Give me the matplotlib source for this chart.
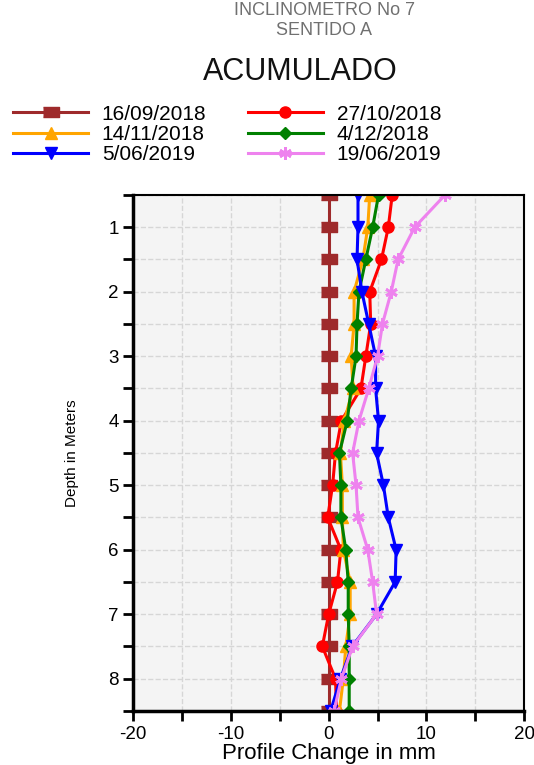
import numpy as np
import matplotlib
matplotlib.use("Agg")
import matplotlib.pyplot as plt
from matplotlib.ticker import MultipleLocator

plt.rcParams["font.family"] = ["Liberation Sans", "DejaVu Sans"]
plt.rcParams["axes.unicode_minus"] = False

# depth of each reading (m)
depth = [0.5, 1.0, 1.5, 2.0, 2.5, 3.0, 3.5, 4.0, 4.5, 5.0, 5.5, 6.0, 6.5, 7.0, 7.5, 8.0, 8.5]

# accumulated displacement (mm) per reading date
d_16_09_2018 = [0, 0, 0, 0, 0, 0, 0, 0, 0, 0, 0, 0, 0, 0, 0, 0, 0]
d_27_10_2018 = [6.5, 6.1, 5.4, 4.2, 4.3, 3.8, 3.3, 1.3, 0.7, 0.4, -0.1, 1.25, 0.9, 0.0, -0.65, 0.7, 0.8]
d_14_11_2018 = [4.2, 4.0, 3.5, 2.6, 2.6, 2.3, 2.5, 1.6, 1.2, 1.4, 1.4, 1.5, 2.2, 2.2, 1.75, 1.5, 1.1]
d_4_12_2018 = [5.1, 4.5, 3.8, 3.1, 2.9, 2.8, 2.3, 1.9, 1.1, 1.25, 1.25, 1.75, 2.0, 2.0, 2.1, 2.1, 2.1]
d_5_06_2019 = [3.0, 3.0, 2.9, 3.4, 4.1, 4.8, 4.8, 5.1, 4.9, 5.6, 6.1, 6.9, 6.8, 4.9, 2.4, 1.2, 0.2]
d_19_06_2019 = [11.9, 8.8, 7.1, 6.4, 5.5, 5.0, 4.1, 3.1, 2.45, 2.8, 3.0, 4.0, 4.5, 4.9, 2.45, 1.3, 0.55]

labels = ["16/09/2018", "27/10/2018", "14/11/2018", "4/12/2018", "5/06/2019", "19/06/2019"]
series = [d_16_09_2018, d_27_10_2018, d_14_11_2018, d_4_12_2018, d_5_06_2019, d_19_06_2019]

rect = [(-1.4, -1), (1.4, -1), (1.4, 1), (-1.4, 1)]
styles = [
    dict(color="#9e2a2b", marker=rect, ms=11),
    dict(color="#ff0000", marker="o", ms=8),
    dict(color="#ffa500", marker="^", ms=9),
    dict(color="#008000", marker="D", ms=6),
    dict(color="#0000ff", marker="v", ms=9),
    dict(color="#ee82ee", marker=(6, 2, 0), ms=9, mew=2),
]

fig = plt.figure(figsize=(5.34, 7.65), dpi=100)
ax = fig.add_axes([0.2494, 0.0706, 0.7322, 0.6745])
ax.set_facecolor("#f4f4f4")

handles = []
for vals, lab, st in zip(series, labels, styles):
    h, = ax.plot(vals, depth, lw=2.2, label=lab, **st)
    handles.append(h)

ax.set_xlim(-20, 20)
ax.set_ylim(8.5, 0.5)
ax.xaxis.set_major_locator(MultipleLocator(10))
ax.xaxis.set_minor_locator(MultipleLocator(5))
ax.yaxis.set_major_locator(MultipleLocator(1))
ax.yaxis.set_minor_locator(MultipleLocator(0.5))
ax.tick_params(which="both", direction="out", length=7, width=2)
ax.tick_params(labelsize=13.5)
ax.grid(which="both", ls="--", color="#d6d6d6", lw=1)
ax.set_axisbelow(True)
for s in ["left", "bottom"]:
    ax.spines[s].set_linewidth(2.5)
for s in ["top", "right"]:
    ax.spines[s].set_linewidth(1.5)

ax.set_xlabel("Profile Change in mm", fontsize=16, labelpad=0)
ax.set_ylabel("Depth in Meters", fontsize=11, labelpad=21,
              family=["Liberation Sans Narrow", "Liberation Sans", "DejaVu Sans"])

fig.text(0.608, 0.986, "INCLINOMETRO No 7", ha="center", va="center", fontsize=13, color="#707070")
fig.text(0.607, 0.960, "SENTIDO A", ha="center", va="center", fontsize=13, color="#707070")
fig.text(0.562, 0.906, "ACUMULADO", ha="center", va="center", fontsize=22, color="#111111")

order = [0, 2, 4, 1, 3, 5]
fig.legend([handles[i] for i in order], [labels[i] for i in order], ncol=2,
           loc="upper left", bbox_to_anchor=(0.009, 0.874), frameon=False,
           fontsize=15, handlelength=3.6, labelspacing=0.06, columnspacing=2.0,
           handletextpad=0.65, borderaxespad=0)

fig.savefig("out.png", dpi=100)
